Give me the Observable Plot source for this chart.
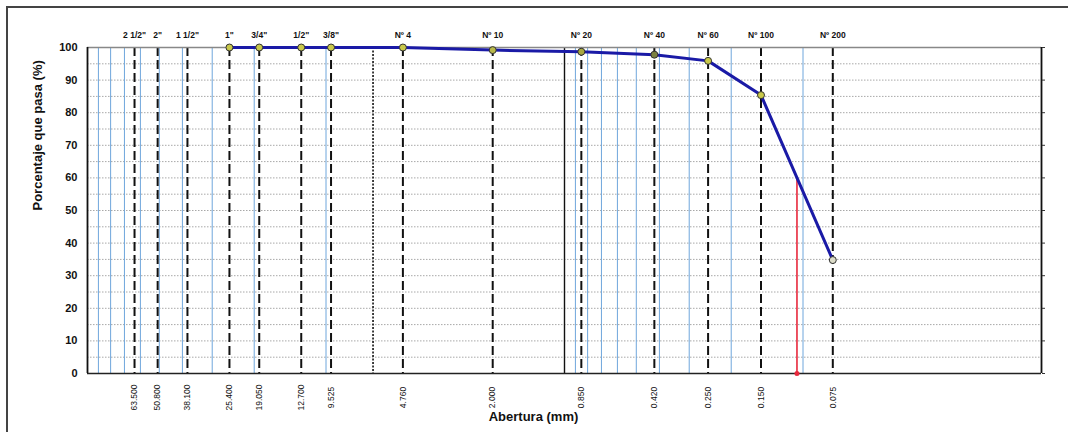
<!DOCTYPE html>
<html>
<head>
<meta charset="utf-8">
<script src="https://cdn.jsdelivr.net/npm/d3@7"></script>
<script src="https://cdn.jsdelivr.net/npm/@observablehq/plot@0.6"></script>
<style>
  html, body { margin: 0; padding: 0; background: #fff; }
  #wrap { position: relative; width: 1068px; height: 432px; overflow: hidden; }
  #chart svg { display: block; }
  .edge { position: absolute; background: #444; }
</style>
</head>
<body>
<div id="wrap">
  <div id="chart"></div>
  <div class="edge" style="left:7px;top:6px;width:1061px;height:2px;"></div>
  <div class="edge" style="left:6px;top:6px;width:2px;height:426px;"></div>
</div>
<script>
// Sieve series
const sieveNames = ['2 1/2"', '2"', '1 1/2"', '1"', '3/4"', '1/2"', '3/8"', 'Nº 4', 'Nº 10', 'Nº 20', 'Nº 40', 'Nº 60', 'Nº 100', 'Nº 200'];
const sieveOpenings = [63.5, 50.8, 38.1, 25.4, 19.05, 12.7, 9.525, 4.76, 2.0, 0.85, 0.42, 0.25, 0.15, 0.075];
const openingLabels = ["63.500", "50.800", "38.100", "25.400", "19.050", "12.700", "9.525", "4.760", "2.000", "0.850", "0.420", "0.250", "0.150", "0.075"];

// Gradation curve (tested sieves)
const testOpenings = [25.4, 19.05, 12.7, 9.525, 4.76, 2.0, 0.85, 0.42, 0.25, 0.15, 0.075];
const testPassing = [100, 100, 100, 100, 100, 99.2, 98.7, 97.8, 95.9, 85.4, 34.8];
const testFill = ["#c9c94a", "#c9c94a", "#c9c94a", "#c9c94a", "#c9c94a", "#b8b84a", "#a8a840", "#7a8040", "#c9c94a", "#c9c94a", "#dcdcc8"];

// Log grid lines (mm)
const logGrid = [90, 80, 70, 60, 50, 40, 30, 20, 10, 0.9, 0.8, 0.7, 0.6, 0.5, 0.4, 0.3, 0.2, 0.1];
const dottedBoundary = [6.35];
const solidBoundary = [1.0];

// D60
const d60Size = [0.106];
const d60Value = 60;

const yTicks = d3.range(0, 101, 10);
const yGrid = d3.range(5, 101, 5);
const xDomain = [100, 0.01];

const testData = testOpenings.map((d, i) => ({size: d, pass: testPassing[i], fill: testFill[i]}));
const sieveData = sieveOpenings.map((d, i) => ({size: d, name: sieveNames[i], label: openingLabels[i]}));

const chart = Plot.plot({
  width: 1068,
  height: 432,
  marginTop: 47,
  marginBottom: 59,
  marginLeft: 87,
  marginRight: 27,
  style: {fontFamily: "'Liberation Sans', Arial, sans-serif", background: "#fff", color: "#111"},
  x: {type: "log", domain: xDomain, axis: null},
  y: {domain: [0, 100], axis: null},
  marks: [
    Plot.ruleY(yGrid, {stroke: "#a8a8a8", strokeWidth: 1, strokeDasharray: "1.5,1.5"}),
    Plot.ruleX(logGrid, {stroke: "#6fa6dc", strokeWidth: 1}),
    Plot.ruleX(dottedBoundary, {stroke: "#111", strokeWidth: 1.6, strokeDasharray: "2,1.5"}),
    Plot.ruleX(solidBoundary, {stroke: "#111", strokeWidth: 1.4}),
    Plot.ruleX(sieveData, {x: "size", stroke: "#111", strokeWidth: 2, strokeDasharray: "9,4"}),
    Plot.ruleY([100], {stroke: "#888", strokeWidth: 1.5}),
    Plot.ruleY([0], {stroke: "#222", strokeWidth: 1.5}),
    Plot.ruleX([xDomain[0]], {stroke: "#111", strokeWidth: 1.8}),
    Plot.ruleX([xDomain[1]], {stroke: "#111", strokeWidth: 1.8}),
    Plot.axisY({anchor: "right", ticks: yTicks, tickSize: 3, tickFormat: () => "", label: null, stroke: "#333"}),
    Plot.axisY({anchor: "left", ticks: yTicks, tickSize: 0, tickPadding: 10, fontSize: 11, fontWeight: "bold", label: null}),
    Plot.ruleX(d60Size, {y1: 0, y2: d60Value, stroke: "#e8283c", strokeWidth: 1.6}),
    Plot.dot(d60Size, {x: d => d, y: 0, r: 2.5, fill: "#e8283c", stroke: "none"}),
    Plot.line(testData, {x: "size", y: "pass", stroke: "#1a1aa6", strokeWidth: 3}),
    Plot.dot(testData, {x: "size", y: "pass", r: 3.5, fill: "fill", stroke: "#333", strokeWidth: 1}),
    Plot.text(sieveData, {x: "size", y: 100, text: "name", dy: -12, fontSize: 8.5, fontWeight: "bold", fill: "#111"}),
    Plot.text(sieveData, {x: "size", y: 0, text: "label", dy: 24, rotate: -90, fontSize: 8.5, fill: "#111", textAnchor: "middle"}),
    Plot.text(["Abertura (mm)"], {frameAnchor: "bottom", dx: -31, dy: 47, fontSize: 13, fontWeight: "bold", fill: "#111"}),
    Plot.text(["Porcentaje que pasa (%)"], {frameAnchor: "left", dx: -50, rotate: -90, fontSize: 13, fontWeight: "bold", fill: "#111"})
  ]
});
document.getElementById("chart").appendChild(chart);
</script>
</body>
</html>
